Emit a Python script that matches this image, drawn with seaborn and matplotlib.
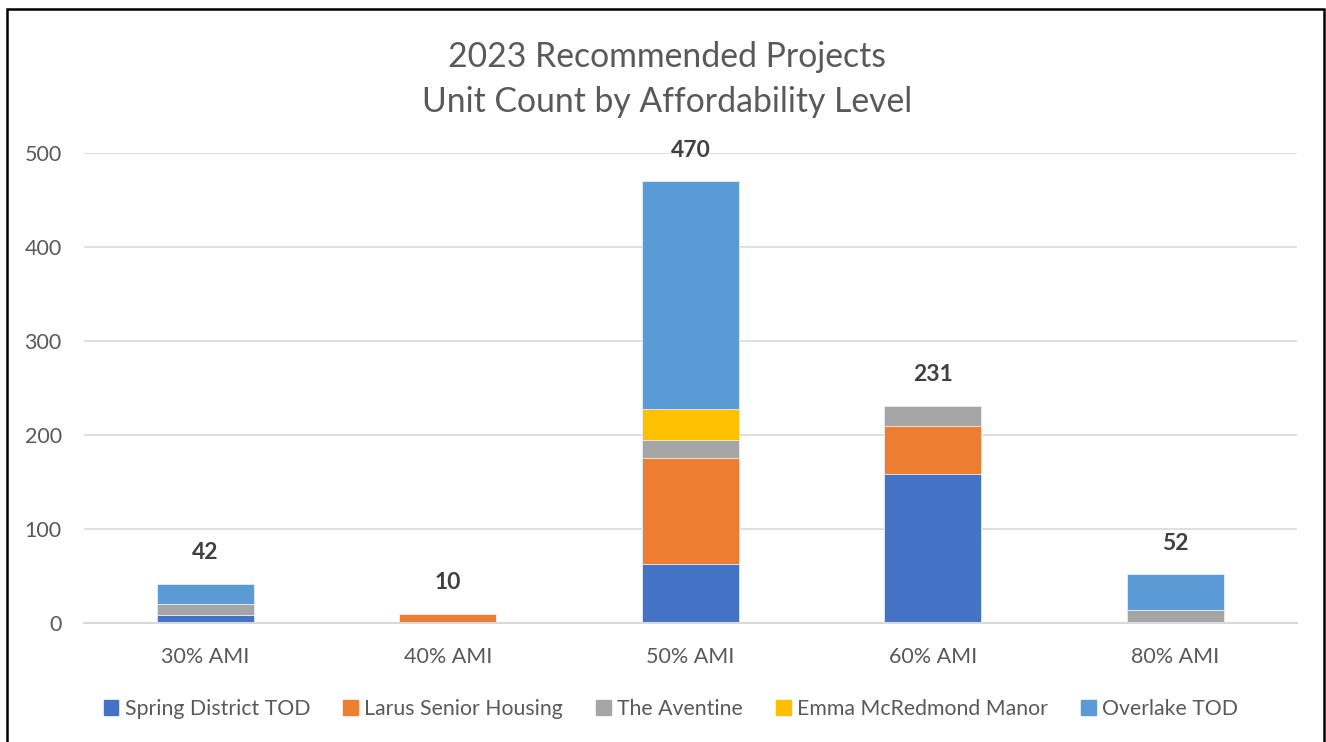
import numpy as np
import pandas as pd
import matplotlib
matplotlib.use("Agg")
import matplotlib.pyplot as plt
import seaborn as sns
from matplotlib.patches import Rectangle

# data
levels = ["30% AMI", "40% AMI", "50% AMI", "60% AMI", "80% AMI"]
spring_district = [8, 0, 63, 158, 0]
larus_senior = [0, 10, 112, 52, 0]
aventine = [12, 0, 20, 21, 14]
emma_mcredmond = [0, 0, 33, 0, 0]
overlake = [22, 0, 242, 0, 38]

series_names = ["Spring District TOD", "Larus Senior Housing", "The Aventine",
                "Emma McRedmond Manor", "Overlake TOD"]
series_colors = ["#4472C4", "#ED7D31", "#A5A5A5", "#FFC000", "#5B9BD5"]

sns.set_style("white")
plt.rcParams["font.family"] = ["Lato", "DejaVu Sans"]

df = pd.DataFrame({
    "level": levels,
    series_names[0]: spring_district,
    series_names[1]: larus_senior,
    series_names[2]: aventine,
    series_names[3]: emma_mcredmond,
    series_names[4]: overlake,
})
cum = df[series_names].cumsum(axis=1)
totals = cum[series_names[-1]]

fig = plt.figure(figsize=(13.26, 7.42), dpi=100)
ax = fig.add_axes([0.0633, 0.1604, 0.9147, 0.6334])

# draw cumulative bars from the top series down so they stack
for name, color in reversed(list(zip(series_names, series_colors))):
    sns.barplot(x=df["level"], y=cum[name], color=color, width=0.4,
                saturation=1, ax=ax, linewidth=0.6, edgecolor="#e8eef7")

ax.set_ylim(0, 500)
ax.set_xlim(-0.5, 4.5)
ax.set_yticks([0, 100, 200, 300, 400, 500])
ax.yaxis.grid(True, color="#d9d9d9", linewidth=1.2)
ax.set_axisbelow(True)
for s in ["left", "right", "top"]:
    ax.spines[s].set_visible(False)
ax.spines["bottom"].set_color("#d9d9d9")
ax.spines["bottom"].set_linewidth(1.5)
ax.tick_params(axis="both", length=0, labelsize=15.5, labelcolor="#595959")
ax.tick_params(axis="y", pad=16)
ax.tick_params(axis="x", pad=17)
ax.set_xlabel("")
ax.set_ylabel("")

for i, t in enumerate(totals):
    ax.annotate(f"{t}", (i, t), xytext=(0, 31), textcoords="offset pixels",
                ha="center", va="center", fontsize=16.5, fontweight="bold",
                color="#404040", annotation_clip=False)

fig.text(0.503, 1 - 57 / 742, "2023 Recommended Projects", ha="center",
         va="center", fontsize=24.3, color="#595959")
fig.text(0.503, 1 - 102 / 742, "Unit Count by Affordability Level", ha="center",
         va="center", fontsize=24.3, color="#595959")

handles = [Rectangle((0, 0), 1, 1, color=c) for c in series_colors]
fig.legend(handles, series_names, loc="center", bbox_to_anchor=(0.506, 1 - 709 / 742),
           ncol=5, frameon=False, fontsize=15.3, handlelength=0.7, handleheight=0.7,
           handletextpad=0.3, columnspacing=1.55, labelcolor="#595959")

border = Rectangle((7 / 1326, -0.05), 1317 / 1326, 1 - 9 / 742 + 0.05,
                   transform=fig.transFigure, fill=False, edgecolor="black",
                   linewidth=1.8)
fig.patches.append(border)

fig.savefig("out.png", dpi=100)
